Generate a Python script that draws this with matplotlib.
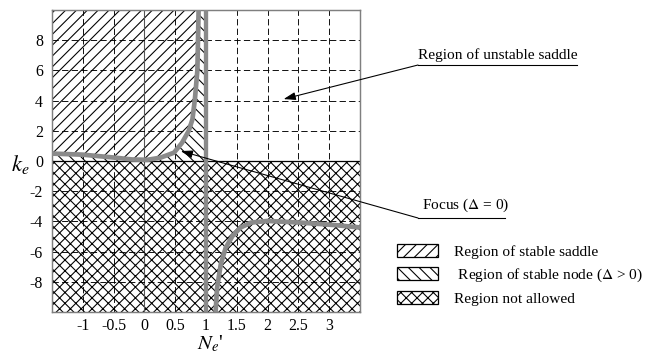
import matplotlib
matplotlib.use('Agg')
import matplotlib.pyplot as plt
from matplotlib.patches import Patch
from matplotlib.lines import Line2D

plt.rcParams['font.family'] = ['Liberation Serif', 'DejaVu Serif']
plt.rcParams['mathtext.fontset'] = 'stix'
plt.rcParams['hatch.linewidth'] = 0.6
plt.rcParams['lines.scale_dashes'] = False

W, H, DPI = 646, 354, 130

# boundary curves
upper_x = [-1.5, -1.0, -0.5, -0.2, 0.05, 0.26, 0.48, 0.61, 0.72, 0.78, 0.82, 0.86, 0.87, 0.88]
upper_y = [0.49, 0.42, 0.23, 0.1, 0.08, 0.22, 0.55, 1.2, 2.0, 2.76, 4.1, 6.0, 8.0, 10.0]
lower_x = [1.156, 1.18, 1.24, 1.32, 1.43, 1.56, 1.73, 2.0, 2.54, 3.08, 3.52]
lower_y = [-10, -8.4, -6.84, -5.74, -4.97, -4.41, -4.08, -3.97, -4.08, -4.24, -4.41]
n_boundary = 1.0

x_lim = (-1.5, 3.5)
y_lim = (-10, 10)
x_ticks = [-1, -0.5, 0, 0.5, 1, 1.5, 2, 2.5, 3]
x_labels = ['-1', '-0.5', '0', '0.5', '1', '1.5', '2', '2.5', '3']
y_ticks = [-8, -6, -4, -2, 0, 2, 4, 6, 8]
y_labels = ['-8', '-6', '-4', '-2', '0', '2', '4', '6', '8']

legend_labels = ['Region of stable saddle',
                 r' Region of stable node ($\mathit{\Delta}$ > 0)',
                 'Region not allowed']
legend_hatches = ['////', '\\\\\\\\', 'xxxx']


def fig_px(x, y):
    # picture pixels (top-left origin) -> figure fraction
    return x / W, 1 - y / H


fig = plt.figure(figsize=(W / DPI, H / DPI), dpi=DPI)
ax = fig.add_axes([52 / W, 1 - 312 / H, 308 / W, 302 / H])
ax.set_xlim(*x_lim)
ax.set_ylim(*y_lim)

# regions
ax.fill_between(list(x_lim), y_lim[0], 0, facecolor='white', edgecolor='black',
                hatch='xxxx', lw=0, zorder=1)
ax.fill_between([x_lim[0], n_boundary], 0, y_lim[1], facecolor='white',
                edgecolor='black', hatch='\\\\\\\\', lw=0, zorder=1)
ax.fill_between(upper_x, upper_y, y_lim[1], facecolor='white', edgecolor='black',
                hatch='////', lw=0, zorder=1)

# grid
for t in x_ticks:
    if t == 0:
        ax.axvline(t, color='#555555', lw=0.6, zorder=2)
    elif t != n_boundary:
        ax.axvline(t, color='black', lw=0.5, ls=(0, (3.5, 1.8)), zorder=2)
for t in y_ticks:
    if t == 0:
        ax.axhline(t, color='black', lw=0.7, zorder=2)
    else:
        ax.axhline(t, color='black', lw=0.5, ls=(0, (3.5, 1.8)), zorder=2)

# boundaries
gray = '#8a8a8a'
ax.axvline(n_boundary, color=gray, lw=2.4, zorder=3)
ax.plot(upper_x, upper_y, color=gray, lw=2.6, zorder=3,
        solid_joinstyle='round', solid_capstyle='butt')
ax.plot(lower_x, lower_y, color=gray, lw=2.6, zorder=3,
        solid_joinstyle='round', solid_capstyle='butt')

ax.set_xticks(x_ticks)
ax.set_xticklabels(x_labels)
ax.set_yticks(y_ticks)
ax.set_yticklabels(y_labels)
ax.tick_params(length=0, labelsize=8.8)
ax.tick_params(axis='y', pad=5)
ax.tick_params(axis='x', pad=3.5)
for s in ax.spines.values():
    s.set_color('#7f7f7f')
    s.set_linewidth(0.8)

ax.set_ylabel('$k_e$', fontsize=12.5, rotation=0, va='center', ha='center')
ax.yaxis.set_label_coords(-0.104, 0.49)
ax.set_xlabel("$N_e$'", fontsize=11.5, va='top', ha='center')
ax.xaxis.set_label_coords(0.513, -0.073)

# annotations
arrow = dict(arrowstyle='-|>,head_length=0.55,head_width=0.18', color='black',
             lw=0.6, shrinkA=0, shrinkB=0)
ax.annotate('', xy=(2.26, 4.1), xycoords='data', xytext=fig_px(418, 65),
            textcoords='figure fraction', arrowprops=arrow, annotation_clip=False)
fig.text(*fig_px(418, 59), 'Region of unstable saddle', fontsize=8.5,
         ha='left', va='baseline')
fig.add_artist(Line2D([418 / W, 577 / W], [1 - 65 / H] * 2, color='black',
                      lw=0.6, transform=fig.transFigure))

ax.annotate('', xy=(0.59, 0.66), xycoords='data', xytext=fig_px(418, 218),
            textcoords='figure fraction', arrowprops=arrow, annotation_clip=False)
fig.text(*fig_px(422, 209), r'Focus ($\mathit{\Delta}$ = 0)', fontsize=8.5,
         ha='left', va='baseline')
fig.add_artist(Line2D([418 / W, 505 / W], [1 - 218 / H] * 2, color='black',
                      lw=0.6, transform=fig.transFigure))

# legend
handles = [Patch(facecolor='white', edgecolor='black', hatch=h, lw=0.7)
           for h in legend_hatches]
fig.legend(handles, legend_labels, loc='center left',
           bbox_to_anchor=fig_px(397, 275), frameon=False, fontsize=8.5,
           handlelength=2.7, handleheight=0.9, handletextpad=1.0,
           labelspacing=0.5, borderpad=0, borderaxespad=0)

fig.savefig('out.png', dpi=DPI)
